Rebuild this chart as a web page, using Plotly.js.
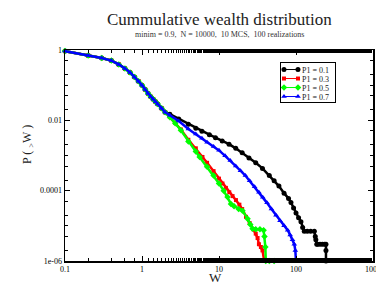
<!DOCTYPE html>
<html>
<head>
<meta charset="utf-8">
<script src="https://cdn.plot.ly/plotly-3.0.1.min.js"></script>
<style>html,body{margin:0;padding:0;background:#fff;}#chart{width:376px;height:284px;}</style>
</head>
<body>
<div id="chart"></div>
<script>
// Shared head of all curves (W values and P(>W))
const headW = [0.1, 0.2, 0.3, 0.4, 0.5, 0.6, 0.7, 0.8, 0.9, 1.0, 1.1, 1.2, 1.3, 1.4, 1.5, 1.6, 1.8, 2.0];
const headP = [0.93, 0.70, 0.59, 0.50, 0.39, 0.30, 0.23, 0.17, 0.13, 0.10, 0.075, 0.058, 0.047, 0.040, 0.034, 0.029, 0.022, 0.017];

// P1 = 0.1
const tailW1 = [2.3, 3, 4, 5, 6, 7.5, 9, 11, 13.5, 16.5, 20, 24.5, 30, 36.7, 45, 52, 60, 70, 80, 86, 93, 100, 108, 116, 122, 128, 140, 155, 173, 178, 181, 186, 191, 205, 220, 235, 245, 245, 245];
const tailP1 = [0.015, 0.011, 0.0077, 0.006, 0.0049, 0.0039, 0.0032, 0.0026, 0.0021, 0.0016, 0.0012, 8.5e-4, 6.2e-4, 4.3e-4, 2.7e-4, 1.9e-4, 1.35e-4, 8.5e-5, 6e-5, 4.6e-5, 3.2e-5, 2.3e-5, 1.7e-5, 1.3e-5, 9e-6, 7e-6, 7e-6, 7e-6, 7e-6, 5e-6, 4e-6, 3e-6, 3e-6, 3e-6, 3e-6, 3e-6, 3e-6, 2e-6, 1e-6];

// P1 = 0.3
const tailW3 = [2.3, 2.7, 3.2, 4, 5, 6.1, 7, 8.5, 10, 11.1, 12.3, 13.6, 15, 16.6, 18.4, 20, 22.4, 25, 28, 30, 31.7, 33, 35, 36.7, 38.7, 45, 52, 58, 64, 70];
const tailP3 = [0.0125, 0.0085, 0.0055, 0.0028, 0.0016, 9.1e-4, 6.2e-4, 3.6e-4, 2.2e-4, 1.6e-4, 1.2e-4, 9e-5, 7e-5, 5.4e-5, 4e-5, 3e-5, 1.8e-5, 1.2e-5, 8e-6, 6e-6, 4.5e-6, 3e-6, 2.5e-6, 2e-6, 1e-6, 1e-6, 1e-6, 1e-6, 1e-6, 1e-6];

// P1 = 0.5
const tailW5 = [2.3, 2.7, 3.2, 4, 5, 5.6, 7, 8.5, 10, 11.5, 12.9, 14.3, 15.7, 18, 20.2, 23.5, 25.5, 27.3, 30, 34, 38, 39, 40, 40.5, 45, 52];
const tailP5 = [0.0123, 0.0083, 0.0052, 0.0025, 0.0013, 9.1e-4, 4.8e-4, 2.7e-4, 1.6e-4, 1e-4, 6.6e-5, 4.2e-5, 3.6e-5, 3e-5, 2.7e-5, 1.6e-5, 1.1e-5, 8.3e-6, 8e-6, 8e-6, 7.5e-6, 5e-6, 2.5e-6, 1e-6, 1e-6, 1e-6];

// P1 = 0.7
const tailW7 = [2.3, 3, 4, 5, 6, 7, 8.5, 10, 12, 14, 16.5, 19, 22, 25, 29, 33, 37, 42, 48, 55, 62, 70, 78, 84, 90, 95, 98, 100, 105, 110, 118];
const tailP7 = [0.014, 0.0095, 0.0057, 0.0041, 0.0031, 0.0024, 0.0018, 0.0014, 9.8e-4, 7.2e-4, 5e-4, 3.7e-4, 2.7e-4, 1.9e-4, 1.3e-4, 9e-5, 6.5e-5, 4.5e-5, 3e-5, 2e-5, 1.4e-5, 1e-5, 7.5e-6, 5.5e-6, 4e-6, 3e-6, 2e-6, 1e-6, 1e-6, 1e-6, 1e-6];

const seriesNames = ['P1 = 0.1', 'P1 = 0.3', 'P1 = 0.5', 'P1 = 0.7'];
const xTickVals = [0.1, 1, 10, 100];
const xTickText = ['0.1', '1', '10', '100'];
const xLastTick = 1000;
const xLastText = '1000';
const yTickVals = [1, 0.01, 0.0001, 0.000001];
const yTickText = ['1', '0.01', '0.0001', '1e-06'];

const tails = [[tailW1, tailP1], [tailW3, tailP3], [tailW5, tailP5], [tailW7, tailP7]];
const colors = ['#000000', '#ff0000', '#00ff00', '#0000ff'];
const symbols = ['circle', 'square', 'diamond', 'triangle-up'];
const sizes = [5, 4, 5, 5];

const traces = tails.map((t, i) => ({
  x: headW.concat(t[0]),
  y: headP.concat(t[1]),
  type: 'scatter',
  mode: 'lines+markers',
  name: seriesNames[i],
  cliponaxis: false,
  line: {color: colors[i], width: 2.5},
  marker: {color: colors[i], symbol: symbols[i], size: sizes[i], line: {width: 0}}
}));

const serif = 'Liberation Serif, Times New Roman, serif';
const axisCommon = {
  type: 'log',
  showgrid: false,
  zeroline: false,
  showline: true,
  linecolor: '#000',
  linewidth: 1.5,
  mirror: 'ticks',
  ticks: 'inside',
  ticklen: 5,
  tickwidth: 1,
  tickcolor: '#000',
  tickmode: 'array',
  tickfont: {family: serif, size: 8, color: '#000'},
  minor: {ticks: 'inside', ticklen: 3, tickcolor: '#000', tickwidth: 1, showgrid: false}
};

const layout = {
  width: 376, height: 284,
  margin: {l: 65, r: 3, t: 50, b: 23},
  paper_bgcolor: '#fff', plot_bgcolor: '#fff',
  showlegend: true,
  xaxis: Object.assign({}, axisCommon, {
    range: [-1, 3],
    tickvals: xTickVals, ticktext: xTickText
  }),
  yaxis: Object.assign({}, axisCommon, {
    range: [-6, 0],
    tickvals: yTickVals, ticktext: yTickText
  }),
  legend: {
    x: 0.698, y: 0.943, xanchor: 'left', yanchor: 'top',
    bgcolor: '#fff', bordercolor: '#000', borderwidth: 1,
    font: {family: serif, size: 8, color: '#222'},
    itemwidth: 30, tracegroupgap: 0
  },
  annotations: [
    {text: 'Cummulative wealth distribution', xref: 'paper', yref: 'paper', x: 0.5, y: 1, yshift: 19,
     xanchor: 'center', yanchor: 'bottom', showarrow: false, font: {family: serif, size: 17, color: '#222'}},
    {text: 'minim = 0.9,&nbsp; N = 10000,&nbsp; 10 MCS,&nbsp; 100 realizations', xref: 'paper', yref: 'paper', x: 0.5, y: 1, yshift: 9,
     xanchor: 'center', yanchor: 'bottom', showarrow: false, font: {family: serif, size: 8, color: '#333'}},
    {text: xLastText, xref: 'x', yref: 'paper', x: Math.log10(xLastTick), y: 0, yshift: -2,
     xanchor: 'center', yanchor: 'top', showarrow: false, font: {family: serif, size: 8, color: '#000'}},
    {text: 'W', xref: 'paper', yref: 'paper', x: 0.49, y: 0, yshift: -16,
     xanchor: 'center', yanchor: 'middle', showarrow: false, font: {family: serif, size: 13, color: '#222'}},
    {text: 'P ( <sub>></sub>W )', xref: 'paper', yref: 'paper', x: 0, xshift: -37, y: 0.55,
     xanchor: 'center', yanchor: 'middle', textangle: -90, showarrow: false, font: {family: serif, size: 12, color: '#222'}}
  ]
};

function compactLegend(gd) {
  const lg = gd.querySelector('g.legend');
  if (!lg) return;
  const items = lg.querySelectorAll('g.traces');
  items.forEach((el, i) => {
    el.setAttribute('transform', 'translate(0,' + (7.5 + i * 9) + ')');
    el.querySelectorAll('.legendlines path').forEach(p => { p.setAttribute('d', 'M4,0h14'); p.style.strokeWidth = '1px'; });
    el.querySelectorAll('.legendpoints path.scatterpts').forEach(p => {
      p.setAttribute('transform', 'translate(4,0)');
      const c = p.cloneNode(true);
      c.setAttribute('transform', 'translate(18,0)');
      p.parentNode.appendChild(c);
    });
    const tx = el.querySelector('text.legendtext');
    if (tx) {
      tx.setAttribute('x', 22);
      tx.querySelectorAll('tspan').forEach(s => { if (s.hasAttribute('x')) s.setAttribute('x', 22); });
    }
  });
  const bg = lg.querySelector('rect.bg');
  if (bg) { bg.setAttribute('width', 55); bg.setAttribute('height', 40); }
}

Plotly.newPlot('chart', traces, layout, {displayModeBar: false, staticPlot: true}).then(compactLegend);
</script>
</body>
</html>
